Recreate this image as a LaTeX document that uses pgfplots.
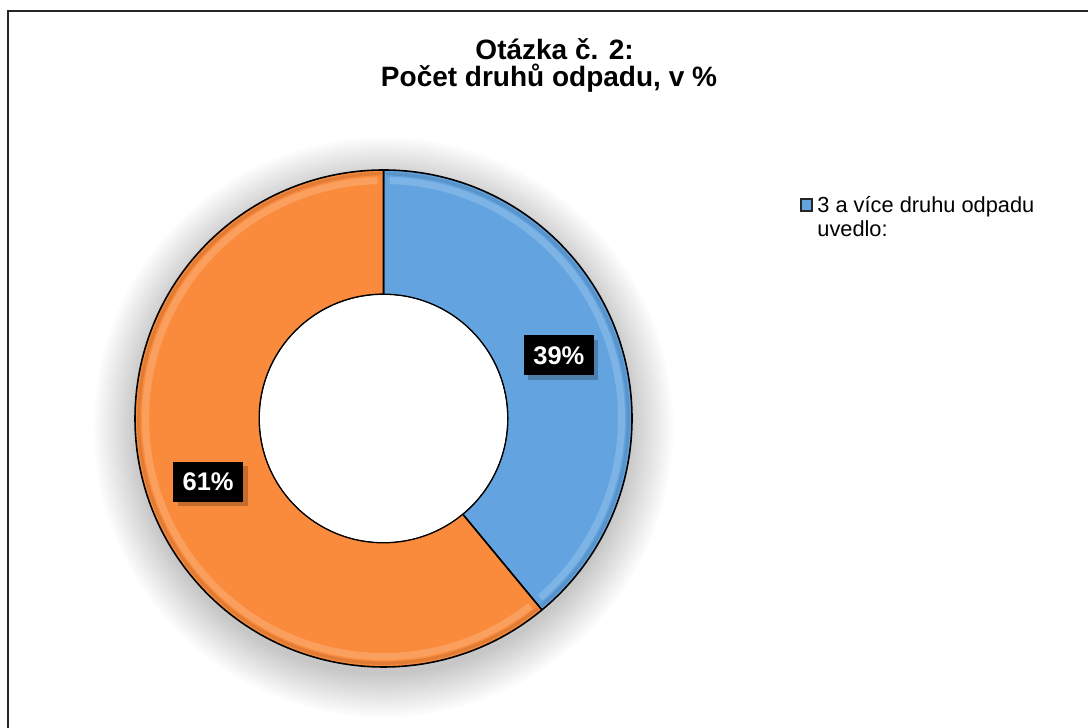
\documentclass[border=0pt]{standalone}
\usepackage{fontspec}
\setmainfont{Liberation Sans}
\usepackage{pgfplots}
\usepackage{pgfplotstable}
\pgfplotsset{compat=1.18}
\usetikzlibrary{calc}
\definecolor{blueC}{RGB}{99,164,224}
\definecolor{orangeC}{RGB}{250,139,60}
\pgfplotstableread{
label value
modra 39
oranzova 61
}\donutdata
\newcommand\slice[3]{%
  \filldraw[fill=#3, draw=black, line width=0.8pt, line join=round]
    (axis cs:{cos(#1)},{sin(#1)}) arc[start angle=#1, end angle=#2, radius=124.25pt]
    -- (axis cs:{0.5*cos(#2)},{0.5*sin(#2)}) arc[start angle=#2, end angle=#1, radius=62.1pt] -- cycle;
  \draw[#3!50!white, line width=3.5pt, opacity=0.35]
    (axis cs:{0.958*cos(#1-1.5)},{0.958*sin(#1-1.5)}) arc[start angle=#1-1.5, end angle=#2+1.5, radius=119pt];
  \draw[#3!60!black, line width=1.6pt, opacity=0.25]
    (axis cs:{0.985*cos(#1-0.5)},{0.985*sin(#1-0.5)}) arc[start angle=#1-0.5, end angle=#2+0.5, radius=122.4pt];
}
\newcommand\plabel[2]{%
  \fill[black, opacity=0.22] ($(axis cs:{0.75*cos(#1)},{0.75*sin(#1)})+(2.2pt,-2.2pt)$) ++(-17.5pt,-10pt) rectangle ++(35pt,20pt);
  \node[fill=black, text=white, font=\bfseries\fontsize{12.75}{14}\selectfont, minimum width=35pt, minimum height=20pt, inner sep=0pt]
    at (axis cs:{0.75*cos(#1)},{0.75*sin(#1)}) {#2\%};
}
\begin{document}
\begin{tikzpicture}
\useasboundingbox (0,0) rectangle (544pt,364pt);
\fill[white] (0,0) rectangle (544pt,364pt);
\draw[line width=0.9pt, black!85] (4pt,0) -- (4pt,358.5pt) -- (544pt,358.5pt);
\node[anchor=base, font=\bfseries\fontsize{14}{14.5}\selectfont] at (277.3pt,334.2pt) {Otázka č. 2:};
\node[anchor=base, font=\bfseries\fontsize{14}{14.5}\selectfont] at (274.5pt,320.5pt) {Počet druhů odpadu, v \%};
\pgfplotstablegetelem{0}{value}\of\donutdata \let\valA\pgfplotsretval
\pgfplotstablegetelem{1}{value}\of\donutdata \let\valB\pgfplotsretval
\pgfmathsetmacro\angA{90}
\pgfmathsetmacro\angB{90-3.6*\valA}
\pgfmathsetmacro\angC{\angB-3.6*\valB}
\pgfmathsetmacro\midA{(\angA+\angB)/2}
\pgfmathsetmacro\midB{(\angB+\angC)/2}
\begin{axis}[
  at={(191.75pt,154.75pt)}, anchor=center,
  scale only axis, width=248.5pt, height=248.5pt,
  xmin=-1, xmax=1, ymin=-1, ymax=1,
  hide axis, clip=false,
  legend style={at={(axis description cs:1.338,0.958)}, anchor=north west, draw=none, fill=none,
    font=\fontsize{10.9}{12}\selectfont, inner sep=0pt, row sep=0pt},
  legend cell align=left,
]
\pgfplotsinvokeforeach{0,...,13}{
  \fill[black, opacity=0.014] (axis cs:0,-0.035) circle[radius={124pt+1.6pt*#1}];
}
\addlegendimage{legend image code/.code={\draw[fill=blueC, draw=black!85, line width=1pt] (0.6pt,-3.1pt) rectangle (6.1pt,3.1pt);}}
\addlegendentry{\begin{tabular}[t]{@{}l@{}}3 a více druhu odpadu\\uvedlo:\end{tabular}}
\slice{\angA}{\angB}{blueC}
\slice{\angB}{\angC}{orangeC}
\fill[white] (axis cs:0,0) circle[radius=61.7pt];
\plabel{\midA}{\valA}
\plabel{\midB}{\valB}
\end{axis}
\end{tikzpicture}
\end{document}
